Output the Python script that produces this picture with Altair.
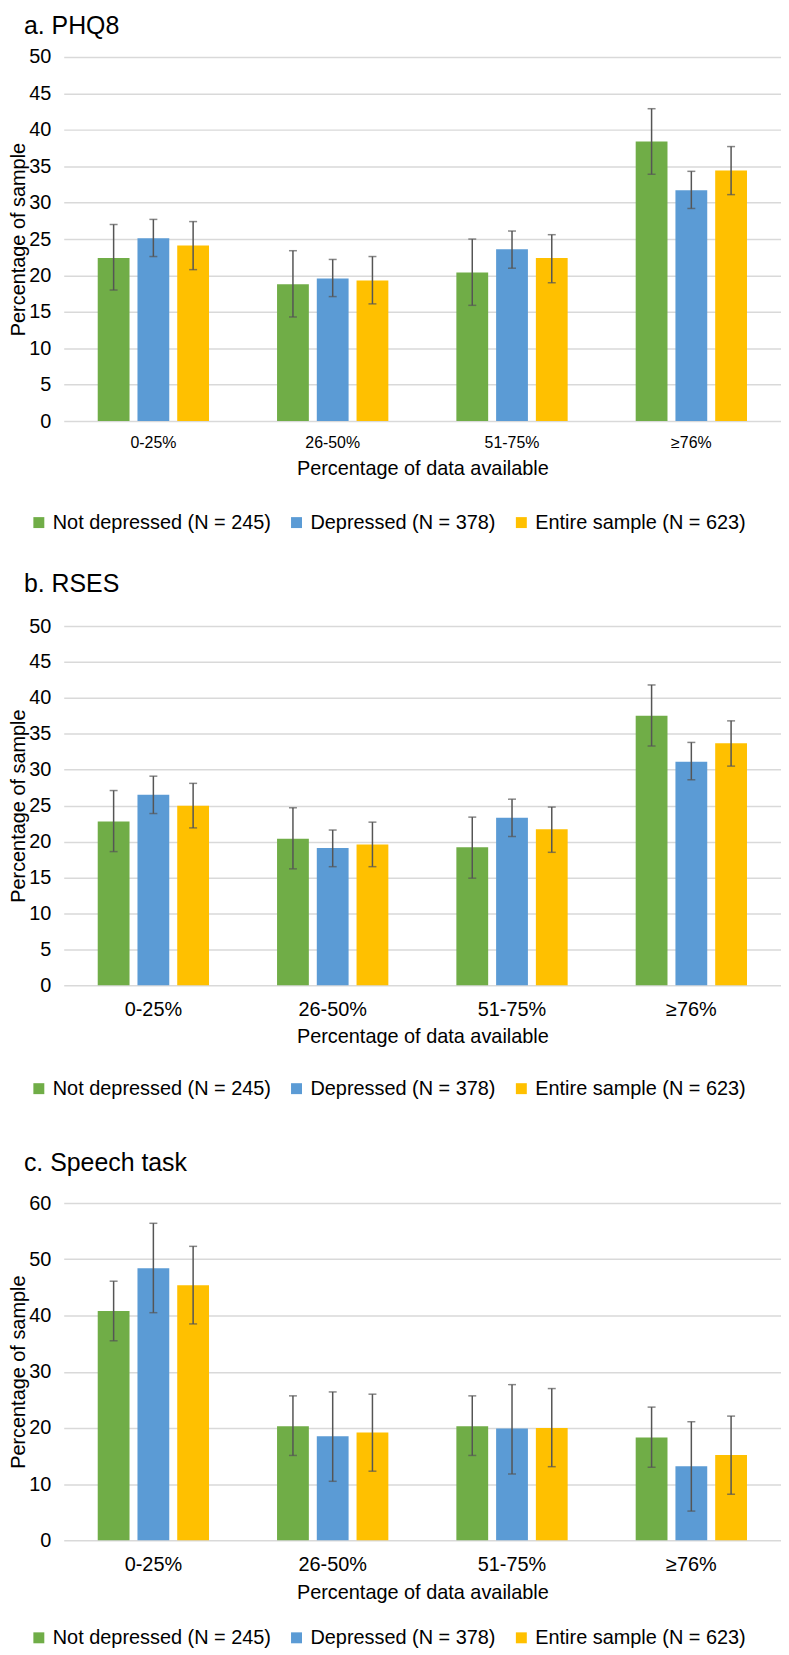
import altair as alt
import pandas as pd

categories = ["0-25%", "26-50%", "51-75%", "≥76%"]
series = ["Not depressed (N = 245)", "Depressed (N = 378)", "Entire sample (N = 623)"]
colors = ["#70AD47", "#5B9BD5", "#FFC000"]

# a. PHQ8
phq_val = [[22.4, 18.8, 20.4, 38.4], [25.1, 19.6, 23.6, 31.7], [24.1, 19.3, 22.4, 34.4]]
phq_lo = [[18.0, 14.3, 15.9, 33.9], [22.6, 17.1, 21.0, 29.2], [20.8, 16.1, 19.0, 31.1]]
phq_hi = [[27.0, 23.4, 25.0, 42.9], [27.7, 22.2, 26.1, 34.3], [27.4, 22.6, 25.6, 37.7]]

# b. RSES
rses_val = [[22.8, 20.4, 19.2, 37.5], [26.5, 19.1, 23.3, 31.1], [25.0, 19.6, 21.7, 33.7]]
rses_lo = [[18.6, 16.2, 14.9, 33.3], [23.9, 16.5, 20.7, 28.6], [21.9, 16.5, 18.5, 30.5]]
rses_hi = [[27.1, 24.7, 23.4, 41.8], [29.1, 21.6, 25.9, 33.8], [28.1, 22.7, 24.8, 36.8]]

# c. Speech task
sp_val = [[40.8, 20.3, 20.3, 18.3], [48.4, 18.5, 19.9, 13.2], [45.4, 19.2, 20.0, 15.2]]
sp_lo = [[35.5, 15.1, 15.1, 13.0], [40.5, 10.5, 11.8, 5.2], [38.5, 12.3, 13.1, 8.2]]
sp_hi = [[46.1, 25.7, 25.7, 23.7], [56.4, 26.4, 27.7, 21.1], [52.3, 26.0, 27.0, 22.1]]

PLOT_W = 721


def build_df(vals, lows, highs):
    rows = []
    for s, v, lo, hi in zip(series, vals, lows, highs):
        for c, a, b, d in zip(categories, v, lo, hi):
            rows.append({"cat": c, "grp": s, "val": a, "lo": b, "hi": d})
    return pd.DataFrame(rows)


def panel(title, df, ymax, ystep, height, xlab_size, legend_y, title_offset, legend_pad=0):
    base = alt.Chart(df)
    xscale = alt.Scale(paddingInner=0.335, paddingOuter=0.1675)
    x_axis = alt.X(
        "cat:N", sort=categories, scale=xscale,
        axis=alt.Axis(title="Percentage of data available", labelAngle=0,
                      labelFontSize=xlab_size, labelPadding=14, titlePadding=8),
    )
    xo = alt.XOffset("grp:N", sort=series,
                     scale=alt.Scale(paddingInner=0.2, paddingOuter=0.1))
    yscale = alt.Scale(domain=[0, ymax], nice=False)
    yax = alt.Axis(values=list(range(0, ymax + 1, ystep)),
                   title="Percentage of sample", labelPadding=13, titlePadding=0)
    bars = base.mark_bar().encode(
        x=x_axis, xOffset=xo,
        y=alt.Y("val:Q", scale=yscale, axis=yax),
        color=alt.Color(
            "grp:N", sort=series,
            scale=alt.Scale(domain=series, range=colors),
            legend=alt.Legend(title=None, orient="none", direction="horizontal",
                              columns=3, legendX=-35 - legend_pad,
                              legendY=legend_y - legend_pad, padding=legend_pad),
        ),
    )
    rules = base.mark_rule(color="#555555", strokeWidth=1.5).encode(
        x=x_axis, xOffset=xo,
        y=alt.Y("lo:Q", scale=yscale, axis=yax), y2="hi:Q",
    )
    cap_hi = base.mark_tick(color="#555555", size=8, thickness=1.5).encode(
        x=x_axis, xOffset=xo, y=alt.Y("hi:Q", scale=yscale, axis=yax),
    )
    cap_lo = base.mark_tick(color="#555555", size=8, thickness=1.5).encode(
        x=x_axis, xOffset=xo, y=alt.Y("lo:Q", scale=yscale, axis=yax),
    )
    return alt.layer(bars, rules, cap_hi, cap_lo).properties(
        width=PLOT_W, height=height,
        title=alt.Title(title, anchor="start", frame="group", dx=-40, fontSize=25,
                        fontWeight="normal", offset=title_offset, color="#000000"),
    )


pa = panel("a. PHQ8", build_df(phq_val, phq_lo, phq_hi), 50, 5, 366, 16, 366 + 92, 8)
pb = panel("b. RSES", build_df(rses_val, rses_lo, rses_hi), 50, 5, 361, 20, 361 + 94, 19,
           legend_pad=13)
pc = panel("c. Speech task", build_df(sp_val, sp_lo, sp_hi), 60, 10, 339, 20, 339 + 88, 17)

chart = alt.vconcat(pa, pb, pc, spacing=40).resolve_scale(color="independent").properties(
    padding={"left": 0, "top": 2, "right": 0, "bottom": 0}
).configure(
    font="Liberation Sans",
).configure_view(stroke=None).configure_axis(
    labelFontSize=20, titleFontSize=20, labelColor="#000000", titleColor="#000000",
    titleFontWeight="normal", domain=False, ticks=False,
    gridColor="#D9D9D9", gridWidth=1.5,
).configure_axisX(grid=False).configure_legend(
    labelFontSize=20, labelColor="#000000", symbolType="square", symbolSize=121,
    symbolStrokeWidth=0, labelOffset=4, columnPadding=15, labelLimit=400, padding=0,
)

chart.save("out.html", embed_options={"renderer": "svg", "actions": False})
